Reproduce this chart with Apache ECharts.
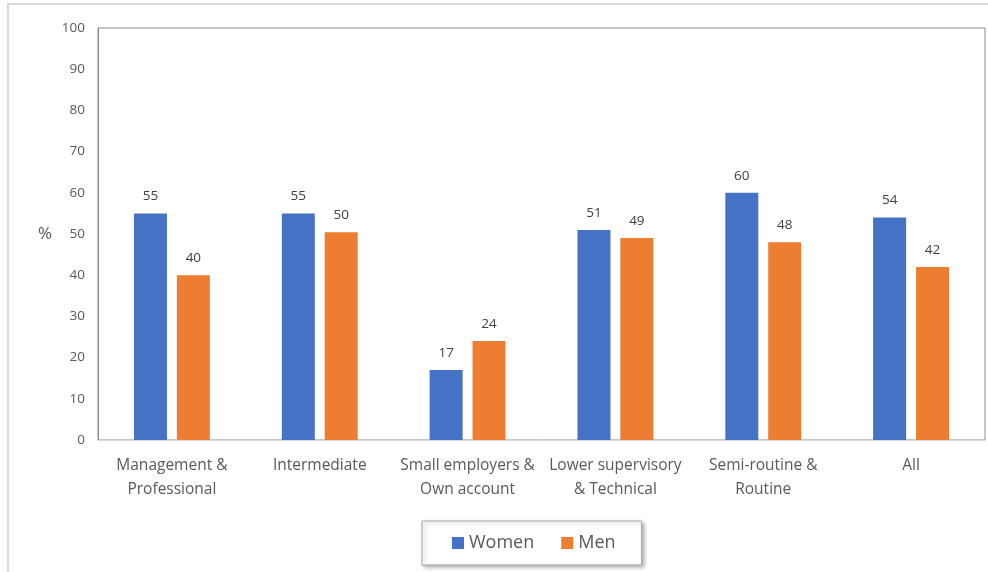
<!DOCTYPE html>
<html>
<head>
<meta charset="utf-8">
<script src="https://cdn.jsdelivr.net/npm/echarts@6/dist/echarts.min.js"></script>
<style>
  html, body { margin: 0; padding: 0; background: #fff; }
  #chart { width: 988px; height: 572px; }
</style>
</head>
<body>
<div id="chart"></div>
<script>
// categories (x axis)
var categories = [
  "Management &\nProfessional",
  "Intermediate",
  "Small employers &\nOwn account",
  "Lower supervisory\n& Technical",
  "Semi-routine &\nRoutine",
  "All"
];
// series values, %
var women = [55, 55, 17, 51, 60, 54];
var men = [40, 50.4, 24, 49, 48, 42];
// y ticks
var yMin = 0, yMax = 100, yStep = 10;

var font = "Open Sans";
var chart = echarts.init(document.getElementById("chart"));

chart.setOption({
  textStyle: { fontFamily: font },
  animation: false,
  grid: {
    left: 98,
    top: 28,
    right: 3,
    bottom: 132,
    show: true,
    borderColor: "#8c8c8c",
    borderWidth: 1
  },
  // outer frame of the chart area
  graphic: [
    {
      type: "polyline",
      shape: { points: [[8, 572], [8, 4], [988, 4]] },
      style: { stroke: "#d9d9d9", lineWidth: 2, fill: null }
    }
  ],
  legend: {
    data: ["Women", "Men"],
    left: 422,
    top: 521,
    padding: [13, 26, 13, 30],
    itemGap: 27,
    itemWidth: 12,
    itemHeight: 12,
    icon: "rect",
    borderColor: "#a6a6a6",
    borderWidth: 1,
    backgroundColor: "#fff",
    shadowColor: "rgba(0,0,0,0.3)",
    shadowBlur: 4,
    shadowOffsetX: 2,
    shadowOffsetY: 2,
    textStyle: { fontFamily: font, fontSize: 18, color: "#595959" }
  },
  xAxis: {
    type: "category",
    data: categories,
    axisLine: { lineStyle: { color: "#d9d9d9", width: 1 } },
    axisTick: { show: false },
    axisLabel: {
      interval: 0,
      color: "#595959",
      fontSize: 15.5,
      lineHeight: 24,
      margin: 14
    }
  },
  yAxis: {
    type: "value",
    min: yMin,
    max: yMax,
    interval: yStep,
    name: "%",
    nameLocation: "middle",
    nameRotate: 0,
    nameGap: 46,
    nameTextStyle: { color: "#595959", fontSize: 17 },
    axisLine: { show: true, lineStyle: { color: "#8c8c8c" } },
    axisTick: { show: false },
    splitLine: { show: false },
    axisLabel: { color: "#595959", fontSize: 13.5, margin: 13 }
  },
  series: [
    {
      name: "Women",
      type: "bar",
      data: women,
      barWidth: 33,
      barGap: "30%",
      itemStyle: { color: "#4472c4" },
      label: {
        show: true,
        position: "top",
        distance: 10,
        color: "#404040",
        fontSize: 13.5,
        formatter: function (p) { return Math.round(p.value); }
      }
    },
    {
      name: "Men",
      type: "bar",
      data: men,
      barWidth: 33,
      itemStyle: { color: "#ed7d31" },
      label: {
        show: true,
        position: "top",
        distance: 10,
        color: "#404040",
        fontSize: 13.5,
        formatter: function (p) { return Math.round(p.value); }
      }
    }
  ]
});
</script>
</body>
</html>
